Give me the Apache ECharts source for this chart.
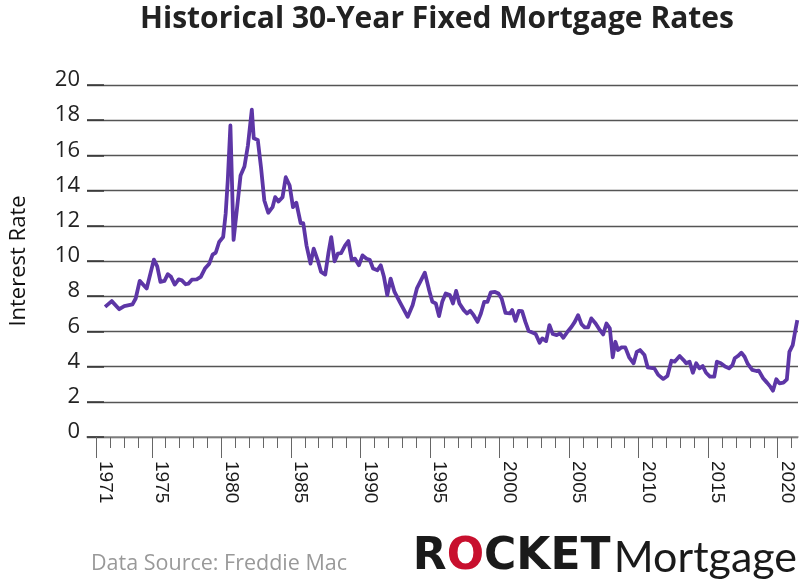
<!DOCTYPE html>
<html>
<head>
<meta charset="utf-8">
<script src="https://cdn.jsdelivr.net/npm/echarts@6/dist/echarts.min.js"></script>
<style>html,body{margin:0;padding:0;background:#fff}#c{width:800px;height:581px}</style>
</head>
<body>
<div id="c"></div>
<script>
// x positions (chart years) and 30-year fixed rates (%)
const years = [1971.64,1972.12,1972.66,1973.02,1973.61,1973.84,1974.13,1974.63,1975.15,1975.39,1975.62,1975.91,1976.15,1976.38,1976.65,1976.93,1977.16,1977.43,1977.64,1977.88,1978.23,1978.52,1978.82,1979.13,1979.37,1979.60,1979.84,1980.13,1980.31,1980.46,1980.65,1980.88,1981.15,1981.38,1981.66,1981.91,1982.19,1982.33,1982.62,1982.85,1983.09,1983.37,1983.68,1983.87,1984.11,1984.40,1984.63,1984.91,1985.15,1985.39,1985.70,1985.89,1986.12,1986.41,1986.64,1986.93,1987.17,1987.47,1987.71,1987.90,1988.14,1988.38,1988.61,1988.90,1989.13,1989.37,1989.61,1989.89,1990.15,1990.44,1990.67,1990.91,1991.22,1991.46,1991.69,1991.93,1992.17,1992.45,1992.88,1993.40,1993.75,1994.06,1994.35,1994.63,1994.94,1995.17,1995.42,1995.65,1995.88,1996.13,1996.43,1996.65,1996.88,1997.12,1997.43,1997.66,1997.90,1998.14,1998.42,1998.66,1998.90,1999.13,1999.37,1999.68,1999.92,2000.15,2000.43,2000.75,2000.91,2001.15,2001.39,2001.62,2001.86,2002.10,2002.40,2002.60,2002.88,2003.07,2003.35,2003.59,2003.83,2004.11,2004.35,2004.59,2004.89,2005.18,2005.41,2005.65,2005.89,2006.12,2006.37,2006.60,2006.91,2007.22,2007.45,2007.69,2007.93,2008.14,2008.33,2008.52,2008.75,2009.04,2009.32,2009.64,2009.87,2010.10,2010.42,2010.65,2011.13,2011.41,2011.77,2012.07,2012.36,2012.59,2012.95,2013.23,2013.42,2013.66,2013.90,2014.14,2014.37,2014.61,2014.85,2015.13,2015.44,2015.63,2015.91,2016.22,2016.50,2016.75,2016.91,2017.14,2017.39,2017.62,2017.85,2018.17,2018.47,2018.64,2018.95,2019.23,2019.47,2019.66,2019.90,2020.13,2020.41,2020.66,2020.84,2021.08,2021.25,2021.41];
const rates = [7.39,7.72,7.26,7.43,7.53,7.87,8.87,8.44,10.08,9.70,8.81,8.87,9.25,9.10,8.66,8.96,8.90,8.68,8.72,8.94,8.96,9.10,9.57,9.85,10.36,10.48,11.08,11.36,12.69,14.57,17.70,11.20,13.16,14.86,15.37,16.56,18.60,16.97,16.88,15.33,13.44,12.74,13.06,13.63,13.38,13.63,14.76,14.29,13.06,13.31,12.15,12.15,10.89,9.85,10.70,10.04,9.38,9.23,10.51,11.36,9.98,10.42,10.45,10.89,11.13,10.08,10.13,9.76,10.32,10.13,10.07,9.57,9.47,9.76,9.10,8.06,9.00,8.24,7.59,6.83,7.49,8.44,8.90,9.34,8.34,7.68,7.59,6.87,7.68,8.15,8.06,7.59,8.30,7.59,7.21,7.02,7.17,6.92,6.54,7.02,7.68,7.68,8.21,8.24,8.15,7.87,7.05,7.02,7.21,6.60,7.17,7.15,6.54,6.02,5.92,5.85,5.35,5.60,5.45,6.36,5.85,5.79,5.89,5.64,5.98,6.26,6.54,6.92,6.41,6.23,6.23,6.74,6.45,6.07,5.83,6.45,6.17,4.53,5.41,4.94,5.09,5.09,4.53,4.19,4.84,4.94,4.66,3.96,3.90,3.53,3.30,3.47,4.33,4.28,4.60,4.37,4.19,4.28,3.65,4.19,3.90,4.03,3.65,3.43,3.43,4.28,4.19,4.00,3.90,4.09,4.47,4.60,4.79,4.56,4.15,3.81,3.75,3.77,3.34,3.09,2.86,2.63,3.28,3.05,3.09,3.28,4.84,5.22,5.98,6.64];
const minorTickYears = [1971,1972,1973,1974,1975,1976,1977,1978,1979,1980,1981,1982,1983,1984,1985,1986,1987,1988,1989,1990,1991,1992,1993,1994,1995,1996,1997,1998,1999,2000,2001,2002,2003,2004,2005,2006,2007,2008,2009,2010,2011,2012,2013,2014,2015,2016,2017,2018,2019,2020,2021];
const labelYears = [1971,1975,1980,1985,1990,1995,2000,2005,2010,2015,2020];
const titleText = 'Historical 30-Year Fixed Mortgage Rates';
const yName = 'Interest Rate';
const sourceText = 'Data Source: Freddie Mac';

const chart = echarts.init(document.getElementById('c'), null, {renderer: 'canvas'});
const xMin = 1970.34, xMax = 2021.46;
chart.setOption({
  animation: false,
  backgroundColor: '#fff',
  grid: {left: 79, right: 2, top: 85, bottom: 144, containLabel: false},
  xAxis: [
    {type: 'value', min: xMin, max: xMax, position: 'bottom',
     axisLine: {show: true, lineStyle: {color: '#8a8a8a', width: 1.5}},
     axisTick: {show: true, customValues: minorTickYears, length: 11, lineStyle: {color: '#666', width: 1}},
     axisLabel: {show: false}, splitLine: {show: false}},
    {type: 'value', min: xMin, max: xMax, position: 'bottom',
     axisLine: {show: false},
     axisTick: {show: true, customValues: labelYears, length: 21, lineStyle: {color: '#666', width: 1}},
     axisLabel: {show: true, customValues: labelYears, rotate: -90, verticalAlign: 'bottom', margin: 24,
       formatter: v => String(Math.round(v)), fontFamily: 'Liberation Sans', fontSize: 19, color: '#1a1a1a'},
     splitLine: {show: false}}
  ],
  yAxis: {
    type: 'value', min: 0, max: 20, interval: 2,
    name: yName, nameLocation: 'middle', nameGap: 57,
    nameTextStyle: {fontFamily: 'Open Sans', fontSize: 22, color: '#111'},
    axisLine: {show: false},
    axisTick: {show: true, inside: true, length: 17, lineStyle: {color: '#333', width: 1.5}},
    axisLabel: {fontFamily: 'Open Sans', fontSize: 22, color: '#222', margin: 7, verticalAlign: 'bottom', lineHeight: 10},
    splitLine: {show: true, lineStyle: {color: '#555', width: 1.4}}
  },
  series: [{
    type: 'line', xAxisIndex: 0,
    data: years.map((y, i) => [y, rates[i]]),
    showSymbol: false, smooth: false,
    lineStyle: {color: '#5d36a6', width: 3.8, join: 'round'}
  }],
  graphic: [
    {type: 'text', x: 437, y: 19, style: {text: titleText, font: 'bold 30px "Open Sans"', fill: '#222', textAlign: 'center', textVerticalAlign: 'middle'}, z: 10},
    {type: 'text', x: 91, y: 564, style: {text: sourceText, font: '21.5px "Open Sans"', fill: '#999', textVerticalAlign: 'middle'}},
    {type: 'text', x: 797, y: 558, style: {
      text: '{k|R}{o|O}{k|CKET} {m|Mortgage}', textAlign: 'right', textVerticalAlign: 'middle',
      rich: {
        k: {fontFamily: 'DejaVu Sans', fontWeight: 'bold', fontSize: 44, fill: '#1a1a1a'},
        o: {fontFamily: 'DejaVu Sans', fontWeight: 'bold', fontSize: 44, fill: '#c8102e'},
        m: {fontFamily: 'Lato', fontWeight: 'normal', fontSize: 43, fill: '#1a1a1a'}
      }}}
  ]
});
</script>
</body>
</html>
